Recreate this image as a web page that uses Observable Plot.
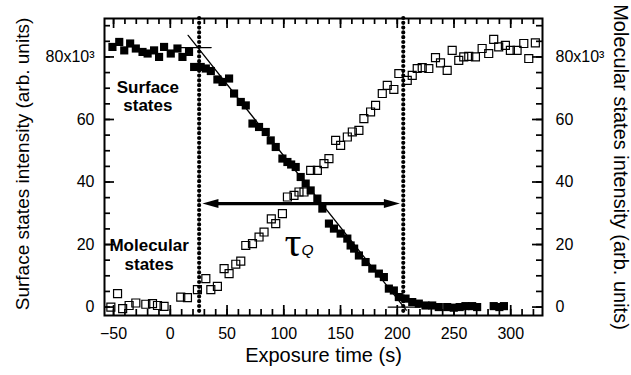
<!DOCTYPE html>
<html><head><meta charset="utf-8">
<script src="https://cdn.jsdelivr.net/npm/d3@7"></script>
<script src="https://cdn.jsdelivr.net/npm/@observablehq/plot@0.6"></script>
<style>body{margin:0;background:#fff}</style>
</head><body><div id="chart"></div>
<script>
// Tick values
const xMajorTicks = [-50, 0, 50, 100, 150, 200, 250, 300];
const xMinorTicks = [-50,-40,-30,-20,-10,0,10,20,30,40,50,60,70,80,90,100,110,120,130,140,150,160,170,180,190,200,210,220,230,240,250,260,270,280,290,300,310,320];
const yMajorTicks = [0, 20, 40, 60, 80];
const yMinorTicks = [0,5,10,15,20,25,30,35,40,45,50,55,60,65,70,75,80,85,90];

// Surface states (filled squares)
const surfaceTime = [-51,-45,-40.6,-35.4,-30.4,-24.5,-20,-14.3,-9.9,-5.5,0.4,6.3,10.7,16.5,21,26.8,31.3,35.7,41.5,46,51.8,56.2,62.1,66.5,72.4,78.2,84.1,88.5,92.9,98.8,103.2,106.5,110.5,114.9,119.3,123.7,129.6,134,139.8,144.2,150.1,156,158.9,162,166.2,172.1,178,183.8,188.2,192.6,197,201.4,207.3,213.2,219,224.9,230.8,236.6,244,249.8,255,260.1,266,270.4,285,290,294];
const surfaceIntensity = [83.2,84.8,82.1,84.3,82.7,81.6,81.1,82.1,80,83.2,81.1,82.7,80,81.6,76.8,76.8,76.3,75.5,72.8,72,73.1,68.3,65.6,64.5,58.7,57.6,56,53.3,51.2,47.5,46.4,45.6,44.8,41.6,39.5,37.3,34.7,31.5,26.7,25.1,23.5,21.9,19.7,18.7,16.5,14.4,12.3,10.7,9.6,5.9,5.3,3.2,2.7,1.6,1.1,0.5,0.5,0,0,-0.2,0,0.3,0.3,0,0.3,0,0.3];

// Molecular states (open squares)
const molecularTime = [-52.4,-46.5,-42,-36.3,-30.4,-21.6,-15.7,-11.3,-5.5,9.2,15.1,23.9,31.3,35.7,41.5,47.4,51.8,57.7,62.1,66.5,72.4,78.2,82.6,89,92.9,98.8,103.2,109,113.4,117.8,123.7,129.6,135.4,139.8,145.7,150.1,156,160.4,166.2,170.6,176.5,180.9,186.8,191.2,197,201.4,208.8,213.2,217.6,222,227.8,233.7,238.1,244,248.4,254.2,258.6,263,268.9,274.8,280.6,285,289.4,295.3,299.7,305.6,311.5,315.9,321.7];
const molecularIntensity = [0,4.3,-0.5,0.5,1.3,0.9,1.1,0.5,0.2,3.2,3,5.6,9.1,5.6,6.6,12.3,10.7,13.7,14.7,19.7,20.3,22.4,24,28.2,26.7,29.9,35.2,35.7,36.8,36.8,43.7,43.7,45.9,47.5,53.3,51.7,54.4,56,56.5,60.3,62.4,64.5,68.3,70.9,69.6,74.7,72.5,74.1,76.3,76.6,76.3,79.8,78.1,75.7,82.1,78.9,80,80.2,80,82.7,81.1,85.6,83.2,83.7,82.1,82.1,84.3,79.5,84.5];

// Linear fit of the decay and pre-exposure level
const fitTime = [15.7, 208];
const fitIntensity = [86.9, -1];
const levelTime = [5, 36];
const levelIntensity = [83, 83];
const baseTime = [192, 220];
const baseIntensity = [0, 0];

// Exposure window (dotted lines) and tau_Q arrow
const windowTimes = [25.4, 205.3];
const arrowSpan = [{t1: 28.3, t2: 202.3, v: 33.1}];

// Annotations
const annotations = [
  {t: -19.8, v: 67.5, label: "Surface\nstates"},
  {t: -18.7, v: 16.7, label: "Molecular\nstates"}
];
const tauLabel = [{t: 108, v: 20.6, s: "τ"}];
const tauSub = [{t: 121, v: 18.1, s: "Q"}];

const surface = surfaceTime.map((t, i) => ({t, v: surfaceIntensity[i]}));
const molecular = molecularTime.map((t, i) => ({t, v: molecularIntensity[i]}));
const fit = fitTime.map((t, i) => ({t, v: fitIntensity[i]}));
const level = levelTime.map((t, i) => ({t, v: levelIntensity[i]}));
const base = baseTime.map((t, i) => ({t, v: baseIntensity[i]}));

const W = 631, H = 375, ML = 104, MR = 89, MT = 18, MB = 60;
const FW = W - ML - MR, FH = H - MT - MB;
const MINOR = 6, MAJOR = 10;

const headRight = {draw(ctx) { ctx.moveTo(0, 0); ctx.lineTo(-16, -4.5); ctx.lineTo(-16, 4.5); ctx.closePath(); }};
const headLeft = {draw(ctx) { ctx.moveTo(0, 0); ctx.lineTo(16, -4.5); ctx.lineTo(16, 4.5); ctx.closePath(); }};

const fmtY = d => d === 80 ? "80x10³" : String(d);
const tk = {stroke: "black", strokeWidth: 1.7};

const chart = Plot.plot({
  width: W, height: H,
  marginLeft: ML, marginRight: MR, marginTop: MT, marginBottom: MB,
  x: {domain: [-58, 328]},
  y: {domain: [-2.7, 92.3]},
  style: {fontFamily: "'Liberation Sans', Arial, sans-serif", fontSize: "16px", color: "black", background: "white"},
  marks: [
    // inward ticks: bottom, top, left, right
    Plot.ruleX(xMinorTicks, {x: d => d, insetTop: FH - MINOR, ...tk}),
    Plot.ruleX(xMajorTicks, {x: d => d, insetTop: FH - MAJOR, ...tk}),
    Plot.ruleX(xMinorTicks, {x: d => d, insetBottom: FH - MINOR, ...tk}),
    Plot.ruleX(xMajorTicks, {x: d => d, insetBottom: FH - MAJOR, ...tk}),
    Plot.ruleY(yMinorTicks, {y: d => d, insetRight: FW - MINOR, ...tk}),
    Plot.ruleY(yMajorTicks, {y: d => d, insetRight: FW - MAJOR, ...tk}),
    Plot.ruleY(yMinorTicks, {y: d => d, insetLeft: FW - MINOR, ...tk}),
    Plot.ruleY(yMajorTicks, {y: d => d, insetLeft: FW - MAJOR, ...tk}),
    // tick labels
    Plot.axisX(xMajorTicks, {anchor: "bottom", tickSize: 0, tickPadding: 12, fontSize: 16, label: null}),
    Plot.axisY(yMajorTicks, {anchor: "left", tickSize: 0, tickPadding: 10, fontSize: 16, tickFormat: fmtY, label: null}),
    Plot.axisY(yMajorTicks, {anchor: "right", tickSize: 0, tickPadding: 13, fontSize: 16, tickFormat: fmtY, label: null}),
    // titles
    Plot.text(["Exposure time (s)"], {text: d => d, frameAnchor: "bottom", textAnchor: "middle", lineAnchor: "top", dy: 32, fontSize: 20}),
    Plot.text(["Surface states intensity (arb. units)"], {text: d => d, frameAnchor: "left", textAnchor: "middle", lineAnchor: "middle", rotate: -90, dx: -82, dy: -3, fontSize: 19}),
    Plot.text(["Molecular states intensity (arb. units)"], {text: d => d, frameAnchor: "right", textAnchor: "middle", lineAnchor: "middle", rotate: 90, dx: 78, fontSize: 20}),
    // exposure window
    Plot.ruleX(windowTimes, {x: d => d, stroke: "black", strokeWidth: 4.2, strokeDasharray: "0,4.8", strokeLinecap: "round"}),
    // fit lines
    Plot.line(fit, {x: "t", y: "v", stroke: "black", strokeWidth: 1.3}),
    Plot.line(level, {x: "t", y: "v", stroke: "black", strokeWidth: 1.3}),
    Plot.line(base, {x: "t", y: "v", stroke: "black", strokeWidth: 1.3}),
    // data
    Plot.dot(surface, {x: "t", y: "v", symbol: "square", r: 4.6, fill: "black", stroke: "none"}),
    Plot.dot(molecular, {x: "t", y: "v", symbol: "square", r: 4.5, fill: "none", stroke: "black", strokeWidth: 1.2}),
    // tau arrow
    Plot.link(arrowSpan, {x1: d => d.t1 + 8, x2: d => d.t2 - 8, y1: "v", y2: "v", stroke: "black", strokeWidth: 3.2}),
    Plot.dot(arrowSpan, {x: "t1", y: "v", symbol: headLeft, fill: "black", stroke: "none"}),
    Plot.dot(arrowSpan, {x: "t2", y: "v", symbol: headRight, fill: "black", stroke: "none"}),
    Plot.text(tauLabel, {x: "t", y: "v", text: "s", fontFamily: "'Liberation Serif', serif", fontSize: 42}),
    Plot.text(tauSub, {x: "t", y: "v", text: "s", fontStyle: "italic", fontSize: 15.5}),
    // labels
    Plot.text(annotations, {x: "t", y: "v", text: "label", fontWeight: "bold", fontSize: 17, lineHeight: 1.1}),
    Plot.frame({stroke: "black", strokeWidth: 2})
  ]
});
document.getElementById("chart").appendChild(chart);
</script>
</body></html>
